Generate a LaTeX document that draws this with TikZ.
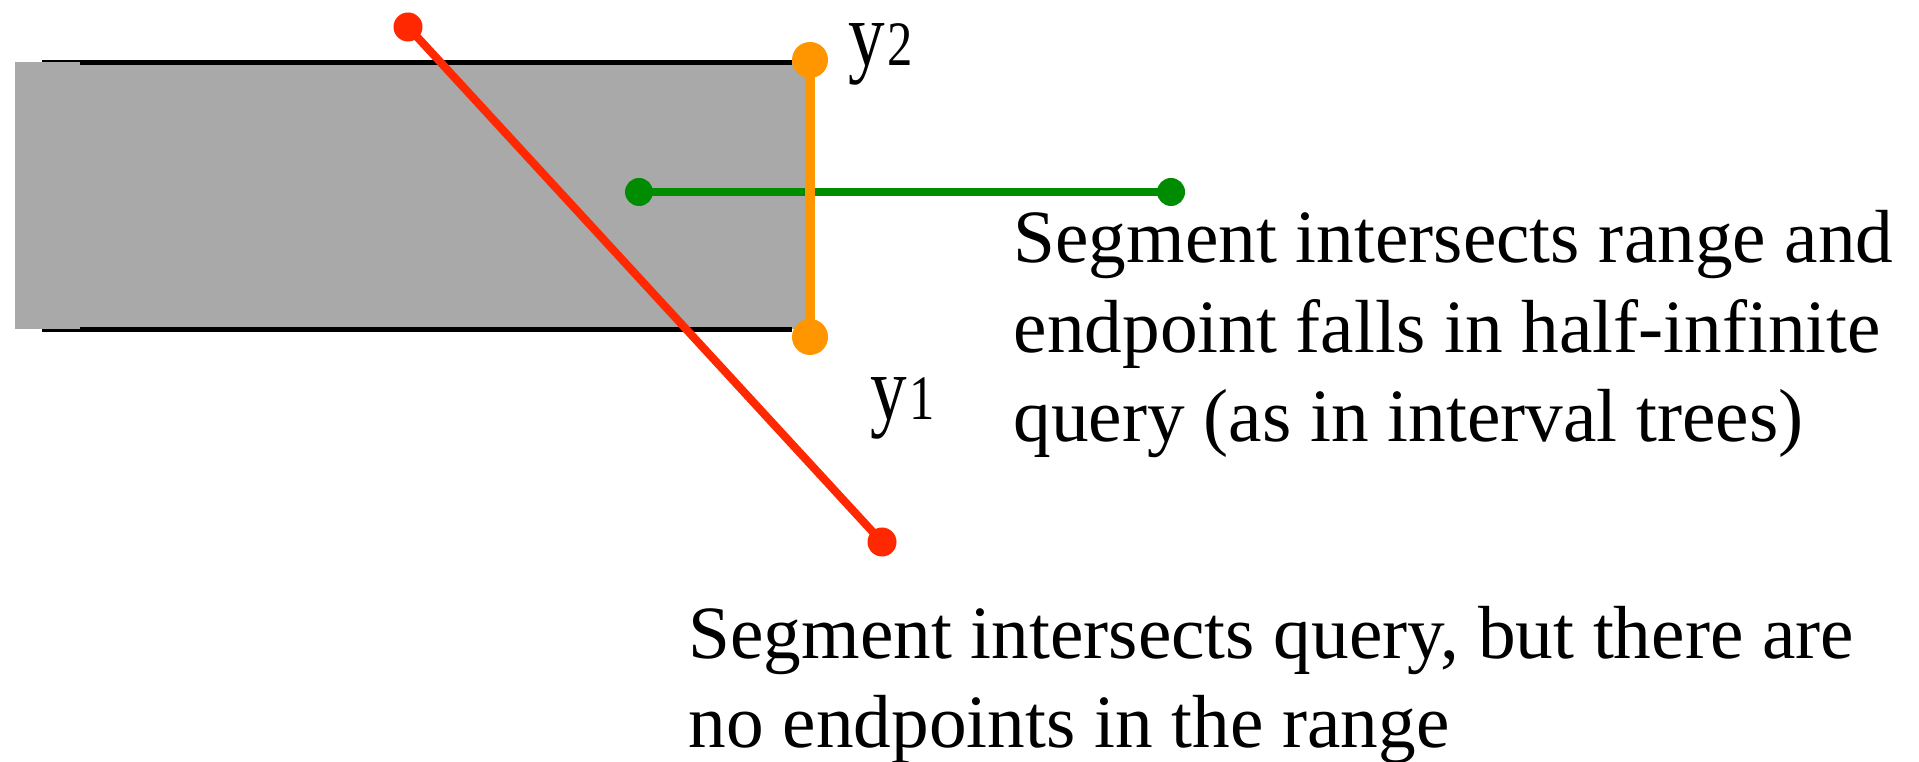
\documentclass[tikz,border=0pt]{standalone}
\usepackage{fontspec}
\setmainfont{Liberation Serif}
\definecolor{rangegray}{RGB}{169,169,169}
\definecolor{segred}{RGB}{255,40,0}
\definecolor{segorange}{RGB}{255,150,0}
\definecolor{seggreen}{RGB}{0,140,0}
\begin{document}
\begin{tikzpicture}[x=0.01cm, y=-0.01cm,
  dot/.style={circle, fill=#1, inner sep=0pt, minimum size=0.29cm},
  seg/.style={#1, line width=2.3pt},
  caption/.style={anchor=base west, inner sep=0pt, align=left,
    font=\fontsize{21.4}{25.45}\selectfont},
  ylabel/.style={anchor=base west, inner sep=0pt, xscale=0.8,
    font=\fontsize{26}{26}\selectfont}]
  \useasboundingbox (0,0) rectangle (1919,762);
  % query range
  \fill[rangegray] (15,62) rectangle (805,329);
  \draw[line width=1.4pt] (42,62.5) -- (792,62.5) (42,329.5) -- (792,329.5);
  \fill[rangegray] (15,62) rectangle (80,329);
  % segments
  \coordinate (rA) at (408,27);
  \coordinate (rB) at (882,542);
  \coordinate (gA) at (639,192);
  \coordinate (gB) at (1171,192);
  \coordinate (oA) at (810,60);
  \coordinate (oB) at (810,337);
  \draw[seg=segred] (rA) -- (rB);
  \draw[seg=seggreen] (gA) -- (gB);
  \draw[seg=segorange, line width=2.8pt] (oA) -- (oB);
  \foreach \p in {rA,rB} \node[dot=segred] at (\p) {};
  \foreach \p in {gA,gB} \node[dot=seggreen, minimum size=0.28cm] at (\p) {};
  \foreach \p in {oA,oB} \node[dot=segorange, minimum size=0.36cm] at (\p) {};
  % labels (multi-line nodes sit on the baseline of their last line)
  \node[ylabel] (ytwo) at (848,66) {y{\fontsize{18}{18}\selectfont\kern1pt 2}};
  \node[ylabel] (yone) at (870,420) {y{\fontsize{18}{18}\selectfont\kern1pt 1}};
  \node[caption] (capgreen) at (1013,442)
    {Segment intersects range and\\endpoint falls in half-infinite\\query (as in interval trees)};
  \node[caption] (capred) at (688,748)
    {Segment intersects query, but there are\\no endpoints in the range};
\end{tikzpicture}
\end{document}
